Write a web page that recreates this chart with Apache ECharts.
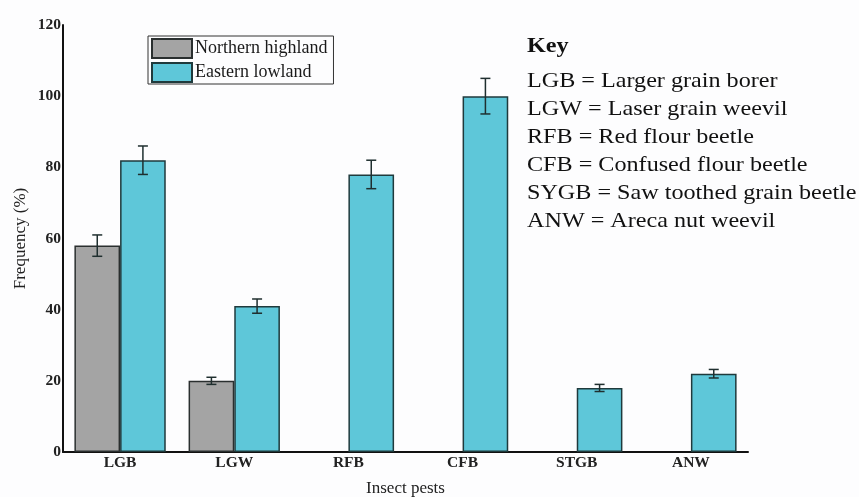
<!DOCTYPE html>
<html>
<head>
<meta charset="utf-8">
<script src="https://cdn.jsdelivr.net/npm/echarts@6/dist/echarts.min.js"></script>
<style>html,body{margin:0;padding:0;background:#fdfdfe;}#c{width:859px;height:497px;}</style>
</head>
<body>
<div id="c"></div>
<script>
const categories = ['LGB', 'LGW', 'RFB', 'CFB', 'STGB', 'ANW'];
const northern = [58, 20, null, null, null, null];
const northernErr = [3, 1, null, null, null, null];
const eastern = [82, 41, 78, 100, 18, 22];
const eastErr = [4, 2, 4, 5, 1, 1.2];
const keyLines = [
  'LGB = Larger grain borer',
  'LGW = Laser grain weevil',
  'RFB = Red flour beetle',
  'CFB = Confused flour beetle',
  'SYGB = Saw toothed grain beetle',
  'ANW = Areca nut weevil'
];

const serif = '"Liberation Serif", "Times New Roman", serif';
const chart = echarts.init(document.getElementById('c'));

function errSeries(vals, errs, side) {
  const data = vals.map((v, i) => v == null ? null : [i, v, errs[i]]).filter(d => d);
  return {
    type: 'custom',
    silent: true,
    z: 10,
    data: data,
    renderItem: function (params, api) {
      const i = api.value(0), v = api.value(1), e = api.value(2);
      const bw = api.size([1, 0])[0];
      const c = api.coord([i, v]);
      const x = c[0] + side * 0.2 * bw;
      const top = api.coord([i, v + e])[1];
      const bot = api.coord([i, v - e])[1];
      const cap = 5;
      const st = { stroke: '#1f2f2f', lineWidth: 1.5 };
      return {
        type: 'group',
        children: [
          { type: 'line', shape: { x1: x, y1: top, x2: x, y2: bot }, style: st },
          { type: 'line', shape: { x1: x - cap, y1: top, x2: x + cap, y2: top }, style: st },
          { type: 'line', shape: { x1: x - cap, y1: bot, x2: x + cap, y2: bot }, style: st }
        ]
      };
    }
  };
}

chart.setOption({
  backgroundColor: '#fdfdfe',
  animation: false,
  grid: { left: 63, right: 111, top: 25, bottom: 45, containLabel: false, outerBoundsMode: 'none' },
  legend: {
    data: ['Northern highland', 'Eastern lowland'],
    orient: 'vertical',
    left: 148, top: 36,
    itemWidth: 40, itemHeight: 19, itemGap: 3,
    padding: [2, 6, 1, 3],
    borderColor: '#333', borderWidth: 1,
    icon: 'rect',
    textStyle: { fontFamily: serif, fontSize: 18, color: '#1a1a1a', padding: [0, 0, 0, -2] }
  },
  xAxis: {
    type: 'category',
    data: categories,
    name: 'Insect pests',
    nameLocation: 'middle',
    nameGap: 28,
    nameMoveOverlap: false,
    nameTextStyle: { fontFamily: serif, fontSize: 17, color: '#222' },
    axisLine: { lineStyle: { color: '#111', width: 2 } },
    axisTick: { show: false },
    axisLabel: { fontFamily: serif, fontSize: 15.5, fontWeight: 'bold', color: '#222', margin: 3 }
  },
  yAxis: {
    type: 'value',
    min: 0, max: 120, interval: 20,
    name: 'Frequency (%)',
    nameLocation: 'middle',
    nameGap: 34,
    nameMoveOverlap: false,
    nameTextStyle: { fontFamily: serif, fontSize: 17, color: '#222' },
    axisLine: { show: true, lineStyle: { color: '#111', width: 2 } },
    axisTick: { show: false },
    splitLine: { show: false },
    axisLabel: { fontFamily: serif, fontSize: 15.5, fontWeight: 'bold', color: '#222', margin: 2 }
  },
  series: [
    {
      name: 'Northern highland', type: 'bar', data: northern,
      barWidth: '40%', barGap: '0%',
      itemStyle: { color: '#a4a4a4', borderColor: '#2a2f2f', borderWidth: 1.5 }
    },
    {
      name: 'Eastern lowland', type: 'bar', data: eastern,
      barWidth: '40%', barGap: '0%',
      itemStyle: { color: '#5ec7d9', borderColor: '#1f3a3c', borderWidth: 1.5 }
    },
    errSeries(northern, northernErr, -1),
    errSeries(eastern, eastErr, 1)
  ],
  graphic: [
    {
      type: 'text', x: 527, y: 36, scaleX: 1.15,
      style: { text: 'Key', fontFamily: serif, fontSize: 21, fontWeight: 'bold', fill: '#111' }
    },
    {
      type: 'text', x: 527, y: 67, scaleX: 1.15,
      style: { text: keyLines.join('\n'), fontFamily: serif, fontSize: 21, lineHeight: 28, fill: '#111' }
    }
  ]
});
</script>
</body>
</html>
